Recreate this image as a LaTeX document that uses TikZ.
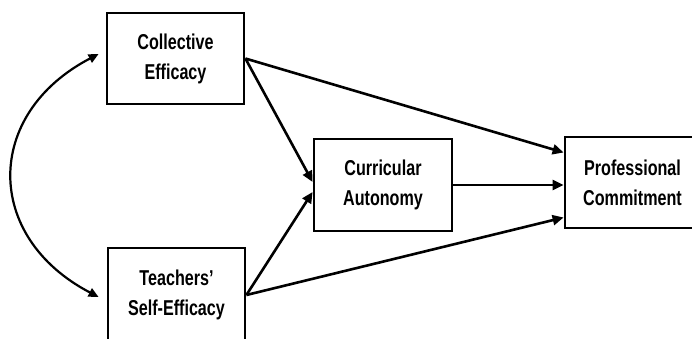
\documentclass[tikz,border=0pt]{standalone}
\usepackage{fontspec}
\setmainfont{Liberation Sans}[FakeStretch=0.75]
\usetikzlibrary{arrows.meta,calc}
\begin{document}
\begin{tikzpicture}[x=1pt,y=1pt,
  box/.style={draw,line width=2.8pt,rectangle,align=center,inner sep=0pt,
    font=\bfseries\fontsize{21.5}{30}\selectfont},
  arr/.style={line width=2.6pt,-{Triangle[length=11pt,width=10pt]}},
  dbl/.style={line width=2.2pt,{Triangle[length=10pt,width=9pt]}-{Triangle[length=10pt,width=9pt]}}]
\useasboundingbox (0,0) rectangle (692,338);
\node[box,minimum width=137pt,minimum height=91pt] (ce) at (175.5,279.5) {Collective\\Efficacy};
\node[box,minimum width=137pt,minimum height=94pt] (te) at (176.5,43) {Teachers’\\Self-Efficacy};
\node[box,minimum width=138pt,minimum height=92pt] (cu) at (383,153) {Curricular\\Autonomy};
\node[box,minimum width=135pt,minimum height=91pt] (pc) at (632.5,155.5) {Professional\\Commitment};
\draw[arr] (ce.east) -- ($(pc.west)+(0,30)$);
\draw[arr] (ce.east) -- ($(cu.west)+(0,3)$);
\draw[arr] (te.east) -- ($(cu.west)+(0,-7)$);
\draw[arr] (te.east) -- ($(pc.west)+(0,-35)$);
\draw[arr] (cu.east) -- (cu.east -| pc.west);
\coordinate (c1) at ($(ce.west)+(-7,4.5)$);
\coordinate (c2) at ($(te.west)+(-8,-2)$);
\draw[dbl] (c1) .. controls +(-115,-60) and +(-115,60) .. (c2);
\end{tikzpicture}
\end{document}
